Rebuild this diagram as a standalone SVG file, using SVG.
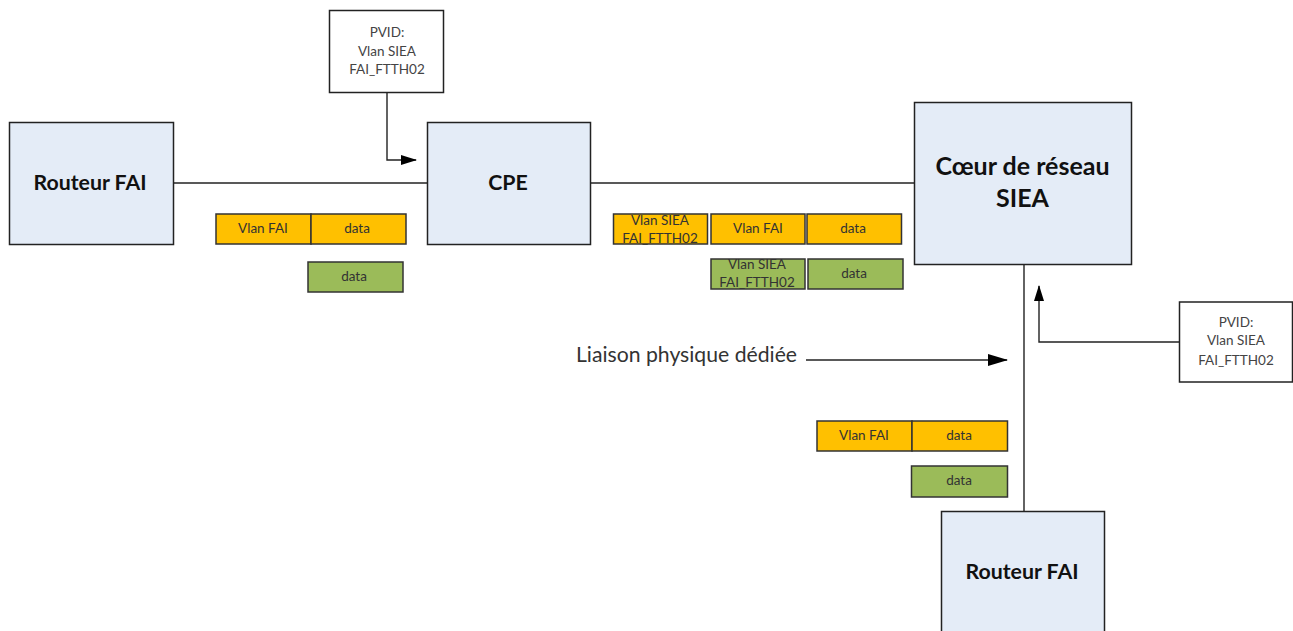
<svg xmlns="http://www.w3.org/2000/svg" width="1293" height="631" viewBox="0 0 1293 631">
<style>
text{font-family:Lato,"Open Sans","Liberation Sans",sans-serif;text-anchor:middle;fill:#222}
.n rect{fill:#e4ecf7;stroke:#222;stroke-width:1.5}
.n text{font-weight:700;font-size:21.300px;fill:#111}
.n text.b{font-size:25px}
.p rect{fill:#fff;stroke:#222;stroke-width:1.5}
.p text{font-size:13.500px;fill:#444}
.o rect{fill:#ffc000;stroke:#333;stroke-width:1.5}
.g rect{fill:#9bbb59;stroke:#333;stroke-width:1.5}
.o text,.g text{font-size:13.500px;fill:#333}
.c{fill:none;stroke:#222;stroke-width:1.4}
.l{font-size:21.200px;fill:#333}
</style>
<defs>
<marker id="a" markerUnits="userSpaceOnUse" markerWidth="20" markerHeight="12" refX="19" refY="6" orient="auto"><path d="M0 0L20 6L0 12Z" fill="#000"/></marker>
<marker id="s" markerUnits="userSpaceOnUse" markerWidth="16" markerHeight="10" refX="15" refY="5" orient="auto"><path d="M0 0L16 5L0 10Z" fill="#000"/></marker>
</defs>
<g id="connectors">
<path class="c" d="M174 183H427"/>
<path class="c" d="M591 183H914"/>
<path class="c" d="M1024 265V511"/>
<path class="c" d="M387 93V160H416" marker-end="url(#s)"/>
<path class="c" d="M1179 342H1039V286" marker-end="url(#s)"/>
<path class="c" d="M806 360H1007" marker-end="url(#a)"/>
</g>
<g id="routeur1" class="n"><rect x="9.500" y="122.500" width="164" height="122"/><text x="90" y="190">Routeur FAI</text></g>
<g id="cpe" class="n"><rect x="427.500" y="122.500" width="163" height="122"/><text x="508" y="190">CPE</text></g>
<g id="coeur" class="n"><rect x="914.500" y="102.500" width="217" height="162"/><text x="1022.500" y="175" class="b">Cœur de réseau</text><text x="1022.500" y="207" class="b">SIEA</text></g>
<g id="routeur2" class="n"><rect x="941.500" y="511.500" width="163" height="122"/><text x="1022" y="579">Routeur FAI</text></g>
<g id="pvid1" class="p"><rect x="329.500" y="10.500" width="114" height="82"/><text x="387" y="37">PVID:</text><text x="387" y="56">Vlan SIEA</text><text x="387" y="74">FAI_FTTH02</text></g>
<g id="pvid2" class="p"><rect x="1179.500" y="302" width="113" height="80"/><text x="1236" y="327">PVID:</text><text x="1236" y="345">Vlan SIEA</text><text x="1236" y="365">FAI_FTTH02</text></g>
<g id="l1" class="o"><rect x="216" y="214" width="95" height="30"/><rect x="311" y="214" width="95" height="30"/><text x="263" y="233">Vlan FAI</text><text x="357" y="233">data</text></g>
<g id="l2" class="g"><rect x="308" y="262" width="95" height="30"/><text x="354" y="281">data</text></g>
<g id="l3" class="o"><rect x="613.500" y="214" width="94" height="30"/><rect x="711" y="214" width="94" height="30"/><rect x="807" y="214" width="94.500" height="30"/><text x="660" y="225">Vlan SIEA</text><text x="660" y="243">FAI_FTTH02</text><text x="758" y="233">Vlan FAI</text><text x="853" y="233">data</text></g>
<g id="l4" class="g"><rect x="711" y="259" width="94" height="30"/><rect x="808" y="259" width="95" height="30"/><text x="757" y="269">Vlan SIEA</text><text x="757" y="287">FAI_FTTH02</text><text x="854" y="278">data</text></g>
<g id="l5" class="o"><rect x="817" y="421" width="95" height="30"/><rect x="912" y="421" width="95.500" height="30"/><text x="864" y="440">Vlan FAI</text><text x="959" y="440">data</text></g>
<g id="l6" class="g"><rect x="911.500" y="466" width="96" height="31"/><text x="959" y="485">data</text></g>
<text x="686.500" y="362" class="l">Liaison physique dédiée</text>
</svg>
